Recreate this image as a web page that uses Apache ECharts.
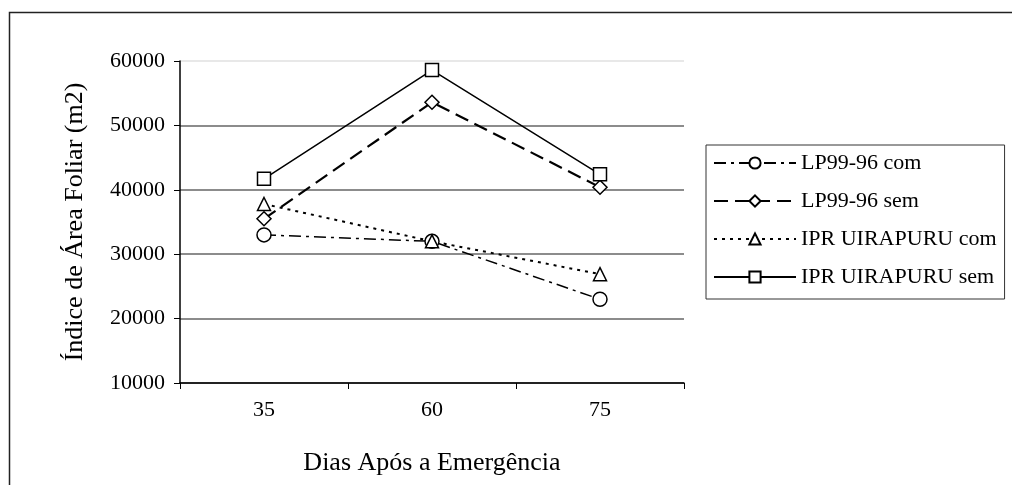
<!DOCTYPE html>
<html>
<head>
<meta charset="utf-8">
<script src="https://cdn.jsdelivr.net/npm/echarts@6/dist/echarts.min.js"></script>
<style>html,body{margin:0;padding:0;background:#fff}#c{width:1012px;height:485px}</style>
</head>
<body>
<div id="c"></div>
<script>
const categories = ['35', '60', '75'];
const lp9996Com = [33000, 32000, 23000];
const lp9996Sem = [35500, 53600, 40400];
const iprCom = [37800, 32000, 26900];
const iprSem = [41700, 58600, 42400];
const seriesNames = ['LP99-96 com', 'LP99-96 sem', 'IPR UIRAPURU com', 'IPR UIRAPURU sem'];
const yTicks = [10000, 20000, 30000, 40000, 50000, 60000];

const font = 'Liberation Serif, Times New Roman, serif';
const chart = echarts.init(document.getElementById('c'));
function mk(name, data, symbol, dash, width, size) {
  return {
    name, type: 'line', data, symbol, symbolSize: size,
    lineStyle: { color: '#000', width: width, type: dash },
    itemStyle: { color: '#fff', borderColor: '#000', borderWidth: 1.5 },
    emphasis: { disabled: true },
    z: 3
  };
}
chart.setOption({
  animation: false,
  backgroundColor: '#fff',
  graphic: [{
    type: 'rect', shape: { x: 9.5, y: 12.5, width: 1010, height: 490 },
    style: { fill: 'none', stroke: '#222', lineWidth: 1.5 }, silent: true, z: -1
  }],
  grid: { left: 180, right: 328, top: 61, bottom: 102 },
  legend: {
    orient: 'vertical', left: 706, top: 145,
    itemWidth: 82, itemHeight: 14, itemGap: 16,
    padding: [7, 8, 11, 7],
    borderColor: '#333', borderWidth: 1,
    textStyle: { fontFamily: font, fontSize: 22, color: '#000' },
    data: seriesNames
  },
  xAxis: {
    type: 'category', data: categories, boundaryGap: true,
    name: 'Dias Após a Emergência', nameLocation: 'middle', nameGap: 67,
    nameTextStyle: { fontFamily: font, fontSize: 26, color: '#000' },
    axisLine: { lineStyle: { color: '#000', width: 1.5 } },
    axisTick: { show: true, length: 6, lineStyle: { color: '#000' } },
    axisLabel: { fontFamily: font, fontSize: 22, color: '#000', margin: 16 }
  },
  yAxis: {
    type: 'value', min: yTicks[0], max: yTicks[yTicks.length - 1], interval: 10000,
    name: 'Índice de Área Foliar (m2)', nameLocation: 'middle', nameGap: 92, nameRotate: 90,
    nameTextStyle: { fontFamily: font, fontSize: 26, color: '#000' },
    axisLine: { show: true, lineStyle: { color: '#000', width: 1.5 } },
    axisTick: { show: true, length: 6, lineStyle: { color: '#000' } },
    axisLabel: { fontFamily: font, fontSize: 22, color: '#000', margin: 15, formatter: v => String(v) },
    splitLine: { show: true, lineStyle: { color: ['#666', '#666', '#666', '#666', '#666', '#e0e0e0'], width: 1.5 } }
  },
  series: [
    mk(seriesNames[0], lp9996Com, 'circle', [12, 5, 3, 5], 1.5, 14),
    mk(seriesNames[1], lp9996Sem, 'diamond', [14, 7], 2.2, 14),
    mk(seriesNames[2], iprCom, 'triangle', [3, 5], 2, 13),
    mk(seriesNames[3], iprSem, 'rect', 'solid', 1.5, 13)
  ]
});
</script>
</body>
</html>
